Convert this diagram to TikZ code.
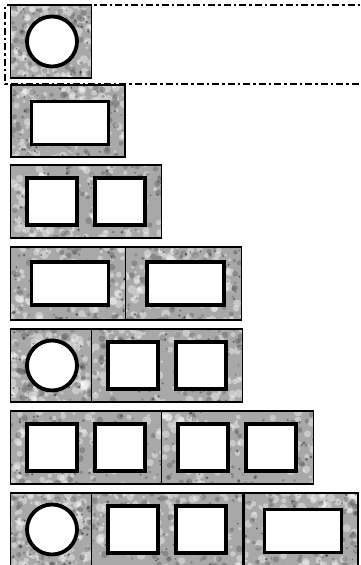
\documentclass[tikz,border=0pt]{standalone}
\usetikzlibrary{calc}
\definecolor{stonegray}{RGB}{168,168,168}
\definecolor{stonedark}{RGB}{85,85,85}
\begin{document}
\begin{tikzpicture}[x=1pt,y=-1pt,
  stone/.style={draw=black, line width=1.6pt, fill=stonegray, inner sep=0pt, outer sep=0pt, anchor=north west,
    path picture={
      \foreach \i in {1,...,110}{
        \pgfmathsetmacro\rx{rnd}\pgfmathsetmacro\ry{rnd}\pgfmathsetmacro\rr{1.5+3*rnd}
        \fill[white,opacity=.38] ($(path picture bounding box.north west)!\rx!(path picture bounding box.north east)+(0,\ry*76)$) circle (\rr pt);
      }
      \foreach \i in {1,...,75}{
        \pgfmathsetmacro\rx{rnd}\pgfmathsetmacro\ry{rnd}\pgfmathsetmacro\rr{1.2+2.3*rnd}
        \fill[stonedark,opacity=.38] ($(path picture bounding box.north west)!\rx!(path picture bounding box.north east)+(0,\ry*76)$) circle (\rr pt);
      }
      \foreach \i in {1,...,40}{
        \pgfmathsetmacro\rx{rnd}\pgfmathsetmacro\ry{rnd}\pgfmathsetmacro\rr{0.6+1*rnd}
        \fill[black,opacity=.4] ($(path picture bounding box.north west)!\rx!(path picture bounding box.north east)+(0,\ry*76)$) circle (\rr pt);
      }
    }},
  hole/.style={draw=black, line width=3.8pt, fill=white, inner sep=0pt, outer sep=0pt},
  ring/.style={hole, circle, minimum size=50pt},
  sq/.style={hole, rectangle, minimum width=50pt, minimum height=47pt},
  slot/.style={hole, rectangle, minimum width=77pt, minimum height=43pt},
  frame/.style={draw=black, line width=2.2pt, dash pattern=on 7pt off 3pt on 2.5pt off 3pt}
]
\pgfmathsetseed{4242}
\clip (0,0) rectangle (360,565);
\useasboundingbox (0,0) rectangle (360,565);
% row 1
\node[stone, minimum width=81pt, minimum height=73pt] (b11) at (10.5,5) {};
\node[ring] (c11) at ($(b11.center)+(1,0)$) {};
\coordinate (f1) at (370,5);
\coordinate (f2) at (5,5);
\coordinate (f3) at (5,84);
\coordinate (f4) at (370,84);
\draw[frame] (f1) -- (f2) -- (f3) -- (f4);
% row 2
\node[stone, minimum width=114pt, minimum height=72pt] (b21) at (11,85) {};
\node[slot] (r21) at ($(b21.center)+(2,2)$) {};
% row 3
\node[stone, minimum width=151pt, minimum height=73pt] (b31) at (10.5,165) {};
\node[sq] (s31) at ($(b31.west)+(41.5,0)$) {};
\node[sq] (s32) at ($(b31.west)+(109.5,0)$) {};
% row 4
\node[stone, minimum width=115pt, minimum height=73pt] (b41) at (10.5,247) {};
\node[stone, minimum width=116pt, minimum height=73pt] (b42) at (b41.north east) {};
\node[slot] (r41) at ($(b41.center)+(2,0)$) {};
\node[slot] (r42) at ($(b42.center)+(2,0)$) {};
% row 5
\node[stone, minimum width=81pt, minimum height=73pt] (b51) at (10.5,329) {};
\node[stone, minimum width=151pt, minimum height=73pt] (b52) at (b51.north east) {};
\node[ring] (c51) at ($(b51.center)+(1,0)$) {};
\node[sq] (s51) at ($(b52.west)+(41.5,0)$) {};
\node[sq] (s52) at ($(b52.west)+(109.5,0)$) {};
% row 6
\node[stone, minimum width=151pt, minimum height=73pt] (b61) at (10.5,411) {};
\node[stone, minimum width=152pt, minimum height=73pt] (b62) at (b61.north east) {};
\node[sq] (s61) at ($(b61.west)+(41.5,0)$) {};
\node[sq] (s62) at ($(b61.west)+(109.5,0)$) {};
\node[sq] (s63) at ($(b62.west)+(41.5,0)$) {};
\node[sq] (s64) at ($(b62.west)+(109.5,0)$) {};
% row 7
\node[stone, minimum width=81pt, minimum height=73pt] (b71) at (10.5,493) {};
\node[stone, minimum width=151pt, minimum height=73pt] (b72) at (b71.north east) {};
\node[stone, minimum width=114pt, minimum height=73pt] (b73) at ($(b72.north east)+(1.5,0)$) {};
\node[ring] (c71) at ($(b71.center)+(1,0)$) {};
\node[sq] (s71) at ($(b72.west)+(41.5,0)$) {};
\node[sq] (s72) at ($(b72.west)+(109.5,0)$) {};
\node[slot] (r71) at ($(b73.center)+(2,1.5)$) {};
\end{tikzpicture}
\end{document}
